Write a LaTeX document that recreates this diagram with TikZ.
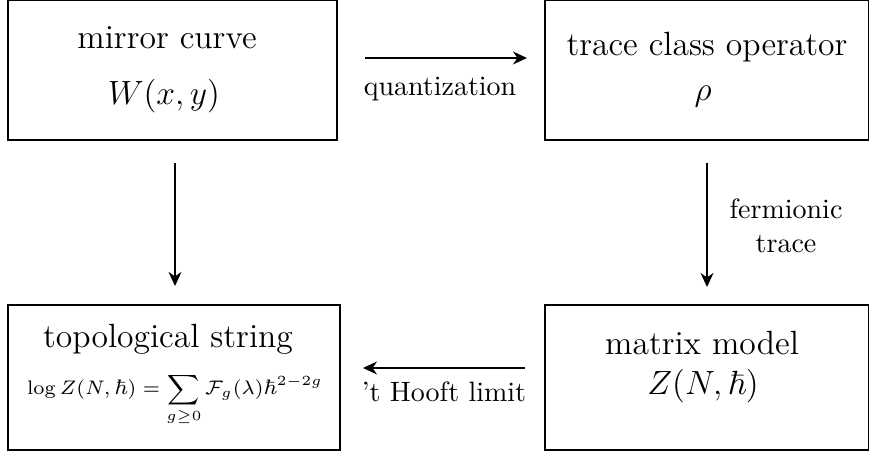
\documentclass[tikz,border=0pt]{standalone}
\usepackage{amsmath,amssymb}
\usetikzlibrary{arrows.meta}
\begin{document}
\begin{tikzpicture}[x=0.3571pt,y=-0.3571pt,
  box/.style={draw,line width=0.9pt,rectangle,inner sep=0pt,minimum height=50pt},
  boxtxt/.style={anchor=base,inner sep=0pt,font=\large},
  lbl/.style={anchor=base,inner sep=0pt,font=\normalsize},
  arr/.style={line width=0.7pt,-{Stealth[length=5pt,width=4.6pt,inset=1.6pt]}}]
\useasboundingbox (0,0) rectangle (869,455);
% boxes
\node[box,minimum width=117.5pt] (mirror) at (172.5,70) {};
\node[box,minimum width=115.7pt] (trace) at (707,70) {};
\node[box,minimum width=118.6pt,minimum height=51.8pt] (topo) at (174,377.5) {};
\node[box,minimum width=115.7pt,minimum height=51.8pt] (matrix) at (707,377.5) {};
% box texts
\node[boxtxt] (mirrorA) at (167,49) {mirror curve};
\node[boxtxt] (mirrorB) at (164,105) {$W(x,y)$};
\node[boxtxt] (traceA) at (707,56) {trace class operator};
\node[boxtxt] (traceB) at (703,101) {$\rho$};
\node[boxtxt] (topoA) at (168,348) {topological string};
\node[anchor=base,inner sep=0pt,font=\fontsize{7.5}{9}\selectfont] (topoB) at (175,395) {$\displaystyle \log Z(N,\hbar)=\sum_{g\geq 0}\mathcal{F}_g(\lambda)\hbar^{2-2g}$};
\node[boxtxt] (matrixA) at (702,355) {matrix model};
\node[boxtxt] (matrixB) at (703,395) {$Z(N,\hbar)$};
% arrow end points
\coordinate (qs) at (365,58);
\coordinate (qe) at (527,58);
\coordinate (ls) at (175,163);
\coordinate (le) at (175,286);
\coordinate (rs) at (707,163);
\coordinate (re) at (707,287);
\coordinate (hs) at (525,368);
\coordinate (he) at (363,368);
% arrows
\draw[arr] (qs) -- (qe);
\draw[arr] (ls) -- (le);
\draw[arr] (rs) -- (re);
\draw[arr] (hs) -- (he);
% labels
\node[lbl] (qlbl) at (440,96) {quantization};
\node[lbl] (flbl) at (786,219) {fermionic};
\node[lbl] (tlbl) at (786,253) {trace};
\node[lbl] (hlbl) at (444,402) {'t Hooft limit};
\end{tikzpicture}
\end{document}
